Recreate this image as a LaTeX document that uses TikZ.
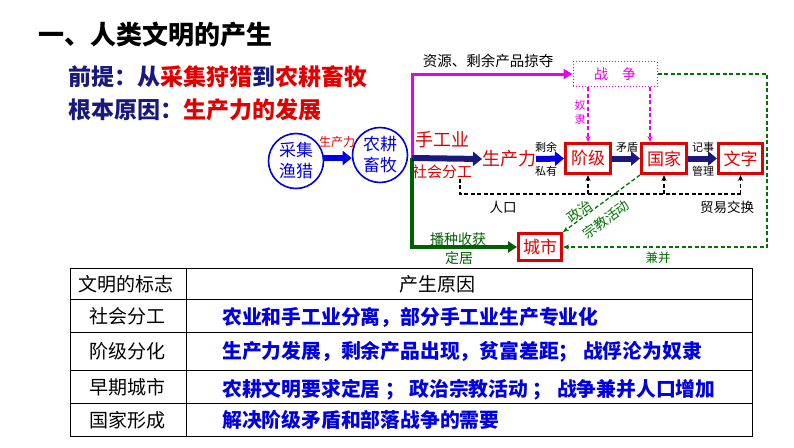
\documentclass[tikz,border=0pt]{standalone}
\usepackage{fontspec}
\setmainfont{Noto Sans CJK SC}
\usetikzlibrary{arrows.meta}
\definecolor{navy}{RGB}{25,25,125}
\definecolor{myred}{RGB}{225,0,0}
\definecolor{myblue}{RGB}{0,0,225}
\definecolor{mag}{RGB}{235,0,235}
\definecolor{dgreen}{RGB}{0,95,0}
\definecolor{lgreen}{RGB}{0,115,0}
\newcommand\myfs[1]{\fontsize{#1}{#1}\selectfont}
\begin{document}
\begin{tikzpicture}[x=1pt,y=-1pt,
  txt/.style={inner sep=0pt, outer sep=0pt},
  lbl/.style={inner sep=0pt, font=\myfs{11}},
  circ/.style={circle, draw=myblue, line width=1.6pt, minimum size=55pt, inner sep=0pt, text=myblue, align=center, font=\fontsize{17}{21}\selectfont},
  rbox/.style={draw=myred, line width=3pt, minimum width=45pt, minimum height=30pt, inner sep=0pt, text=myred, font=\myfs{17}},
  barrow/.style={line width=6pt, -{Triangle[length=9pt,width=14pt]}},
  bdash/.style={black, line width=1.3pt, dash pattern=on 4pt off 2.5pt},
  gdash/.style={lgreen, line width=1.3pt, dash pattern=on 4pt off 2.5pt},
  mdash/.style={mag, line width=1.3pt, dash pattern=on 4pt off 2.5pt},
  tip/.style={-{Stealth[length=6pt,width=5pt]}},
  cell/.style={inner sep=0pt, font=\myfs{19}},
  reason/.style={inner sep=0pt, anchor=west, text=myblue, font=\myfs{19.8}\bfseries}
]
\useasboundingbox (0,0) rectangle (794,447);

% headings
\node[txt, anchor=west, font=\myfs{26}\bfseries] (title) at (38,35) {一、人类文明的产生};
\node[txt, anchor=west, font=\myfs{23}\bfseries] (pre) at (68,77) {\textcolor{navy}{前提：从}\textcolor{myred}{采集狩猎}\textcolor{navy}{到}\textcolor{myred}{农耕畜牧}};
\node[txt, anchor=west, font=\myfs{23}\bfseries] (root) at (68,110) {\textcolor{navy}{根本原因：}\textcolor{myred}{生产力的发展}};

% circles
\node[circ] (c1) at (296,161) {采集\\渔猎};
\node[circ] (c2) at (380,155) {农耕\\畜牧};
\draw[barrow, myblue] ([yshift=3pt]c1.east) -- ([yshift=-3pt]c2.west);
\node[lbl, text=myred, font=\myfs{12}\itshape] (l1) at (337,142) {生产力};

% hub
\coordinate (hub) at (412,158);
\node[txt, text=myred, font=\myfs{18}] (sgy) at (442,140) {手工业};
\node[txt, text=myred, font=\myfs{15}] (shfg) at (442,172) {社会分工};
\node[txt, text=myred, font=\myfs{18}] (scl) at (509,159) {生产力};

% boxes
\node[rbox] (jj) at (588,158.5) {阶级};
\node[rbox] (gj) at (664,158.5) {国家};
\node[rbox, minimum width=44pt] (wz) at (740.5,158.5) {文字};
\node[rbox, minimum width=43pt, minimum height=27pt] (cs) at (540,247) {城市};
\node[draw=mag, dotted, line width=1pt, minimum width=84pt, minimum height=25pt, inner sep=0pt, text=mag, font=\myfs{14}] (zz) at (615,74) {战\quad 争};

% main connectors
\draw[dgreen, line width=3.5pt, -{Triangle[length=9pt,width=11pt]}] (hub) |- (cs.west);
\draw[mag, line width=3pt, -{Triangle[length=9pt,width=10pt]}] (hub) |- (zz.west);
\draw[barrow, navy] (hub) -- (scl.west);
\draw[barrow, myblue] (scl.east) -- (jj.west);
\draw[barrow, navy] (jj.east) -- (gj.west);
\draw[barrow, navy] (gj.east) -- (wz.west);

\node[txt, font=\myfs{14.5}] (res) at (488,61) {资源、剩余产品掠夺};
\node[lbl] (sy) at (546,147) {剩余};
\node[lbl] (sy2) at (546,171) {私有};
\node[lbl] (md) at (627,147) {矛盾};
\node[lbl] (js) at (703,147) {记事};
\node[lbl] (gl) at (703,171) {管理};

% war arrows
\draw[mdash, tip] (zz.south -| jj.north) -- (jj.north);
\draw[mdash, tip] (zz.south -| 650,0) -- (gj.north -| 650,0);
\node[txt, text=mag, align=center, font=\fontsize{11}{14}\selectfont] (nl) at (580,112) {奴\\隶};

% black dashed
\coordinate (d0) at (460,194);
\draw[bdash] (shfg.south -| d0) -- (d0) -- (d0 -| wz.south);
\draw[bdash, tip] (d0 -| jj.south) -- (jj.south);
\draw[bdash, tip] (d0 -| gj.south) -- (gj.south);
\draw[bdash, tip] (d0 -| wz.south) -- (wz.south);
\node[txt, font=\myfs{13.5}] (rk) at (503,207) {人口};
\node[txt, font=\myfs{13.5}] (my) at (727,207) {贸易交换};

% green dashed
\coordinate (g1) at (767,74);
\draw[gdash, tip] (zz.east) -- (g1) -- (g1 |- cs.east) -- (cs.east);
\draw[gdash, tip] (gj.south west) -- (cs.north east);
\node[txt, text=lgreen, font=\myfs{13.5}, rotate=36] (zz1) at (579,211) {政治};
\node[txt, text=lgreen, font=\myfs{13.5}, rotate=36] (zz2) at (606,219) {宗教活动};
\node[txt, text=dgreen, font=\myfs{14}] (bz) at (458,239) {播种收获};
\node[txt, text=dgreen, font=\myfs{14}] (dj) at (459,258) {定居};
\node[txt, text=lgreen, font=\myfs{12.5}] (jb) at (658,258) {兼并};

% table
\draw[line width=1pt] (70,268) rectangle (752,436);
\draw[line width=1pt] (186,268) -- (186,436);
\foreach \yy in {299,332,370,403} \draw[line width=1pt] (70,\yy) -- (752,\yy);
\node[cell] (h1) at (126,284) {文明的标志};
\node[cell] (h2) at (437,284) {产生原因};
\node[cell] (r1) at (127,316) {社会分工};
\node[cell] (r2) at (127,351) {阶级分化};
\node[cell] (r3) at (127,387) {早期城市};
\node[cell] (r4) at (127,420) {国家形成};
\node[reason] (t1) at (222,317) {农业和手工业分离，部分手工业生产专业化};
\node[reason] (t2) at (222,352) {生产力发展，剩余产品出现，贫富差距； 战俘沦为奴隶};
\node[reason] (t3) at (222,390) {农耕文明要求定居 ； 政治宗教活动 ； 战争兼并人口增加};
\node[reason] (t4) at (222,420) {解决阶级矛盾和部落战争的需要};
\end{tikzpicture}
\end{document}
